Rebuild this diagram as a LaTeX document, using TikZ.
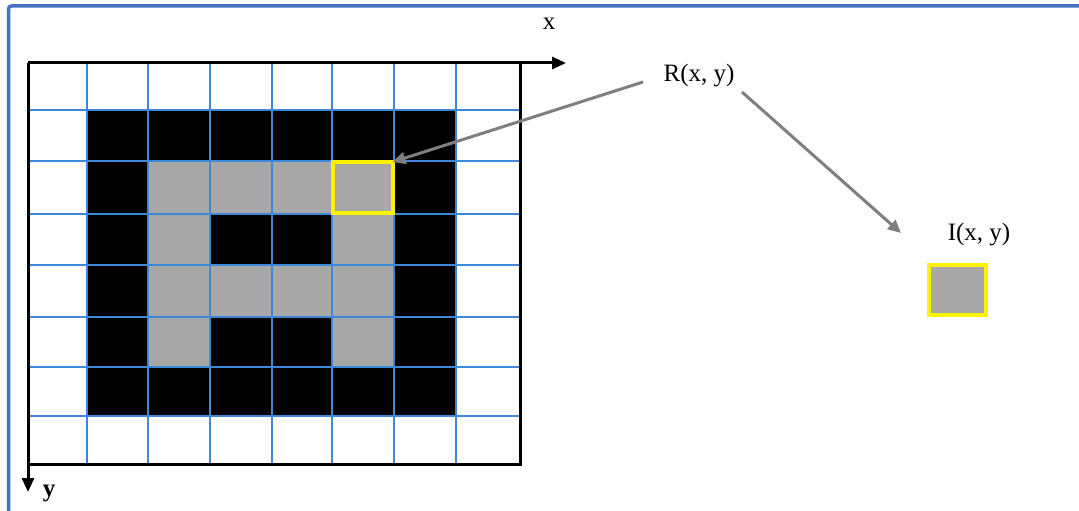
\documentclass[tikz,border=0pt]{standalone}
\usepackage{fontspec}
\setmainfont{Liberation Serif}
\usetikzlibrary{arrows.meta}
\definecolor{frameblue}{HTML}{4472C4}
\definecolor{gridblue}{HTML}{3F87D8}
\definecolor{cellgray}{HTML}{A8A8A8}
\definecolor{arrowgray}{HTML}{7F7F7F}
\definecolor{hlyellow}{HTML}{FFF200}
\tikzset{
  gridline/.style={draw=gridblue, line width=2.2pt},
  axisline/.style={draw=black, line width=3pt},
  pointer/.style={draw=arrowgray, line width=3pt, -{Triangle[length=13pt,width=12pt]}},
  lbl/.style={font=\fontsize{25}{28}\selectfont, inner sep=0pt},
  hlbox/.style={draw=hlyellow, line width=4pt, inner sep=0pt, outer sep=0pt}
}
\begin{document}
\begin{tikzpicture}[x=1pt,y=-1pt]
\useasboundingbox (0,0) rectangle (1079,511);
\fill[white] (0,0) rectangle (1079,511);
% frame
\draw[frameblue, line width=3.5pt, rounded corners=3pt] (8.5,511) -- (8.5,6) -- (1079,6);
% cells
\fill[black] (87,110) rectangle (456,416);
\fill[cellgray] (148,161) rectangle (394,367);
\fill[black] (210,214) rectangle (332,265);
\fill[black] (210,317) rectangle (332,367);
% grid lines
\foreach \gx in {87,148,210,272,332,394,456}
  \draw[gridline] (\gx,63) -- (\gx,464);
\foreach \gy in {110,161,214,265,317,367,416}
  \draw[gridline] (28,\gy) -- (520,\gy);
% border lines
\draw[axisline] (520,63) -- (520,466);
\draw[axisline] (28,464) -- (520,464);
% axes
\coordinate (o) at (28,63);
\coordinate (xe) at (566,63);
\coordinate (ye) at (28,492);
\draw[axisline, -{Triangle[length=14pt,width=12pt]}] (o) -- (xe);
\draw[axisline, -{Triangle[length=14pt,width=12pt]}] (o) -- (ye);
\node[lbl] (xl) at (549,24) {x};
\node[lbl, font=\fontsize{25}{28}\selectfont\bfseries] (yl) at (49,493) {y};
% highlighted cell
\node[hlbox, minimum width=60pt, minimum height=51pt] (hl) at (362.5,187.5) {};
% labels
\node[lbl] (R) at (699,76) {R(x, y)};
\node[lbl] (I) at (979,235) {I(x, y)};
\node[hlbox, fill=cellgray, minimum width=57pt, minimum height=50pt] (ib) at (957.5,290) {};
% pointers
\coordinate (r1) at (643,82);
\coordinate (r2) at (742,92);
\coordinate (i1) at (901,233);
\draw[pointer] (r1) -- (hl.north east);
\draw[pointer] (r2) -- (i1);
\end{tikzpicture}
\end{document}
